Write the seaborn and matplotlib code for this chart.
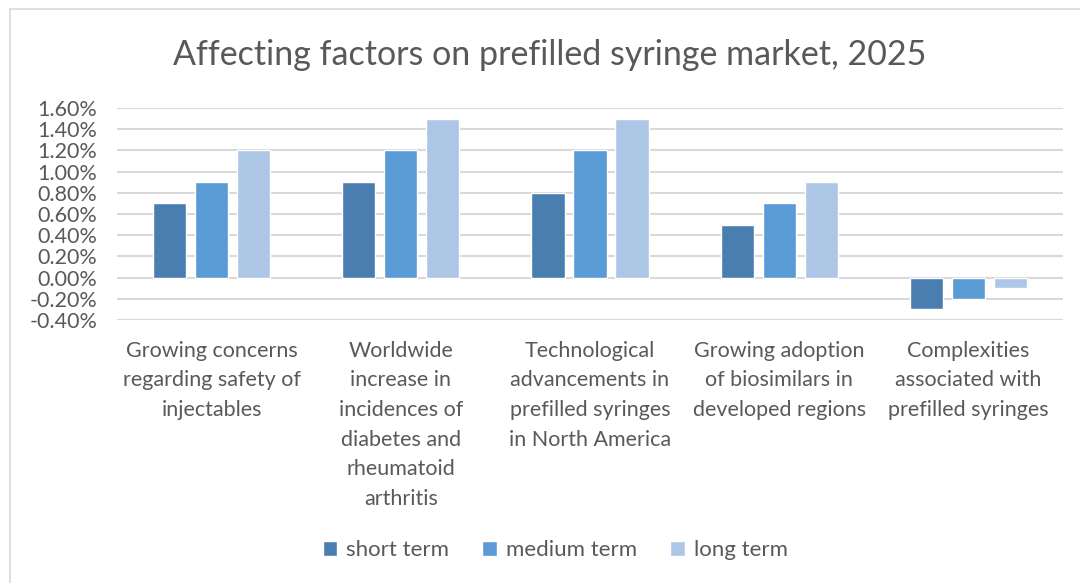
import seaborn as sns
import matplotlib.pyplot as plt
import pandas as pd
from matplotlib.ticker import FuncFormatter, MultipleLocator
from matplotlib.patches import Rectangle

# chart values (percent)
categories = [
    "Growing concerns\nregarding safety of\ninjectables",
    "Worldwide\nincrease in\nincidences of\ndiabetes and\nrheumatoid\narthritis",
    "Technological\nadvancements in\nprefilled syringes\nin North America",
    "Growing adoption\nof biosimilars in\ndeveloped regions",
    "Complexities\nassociated with\nprefilled syringes",
]
terms = ["short term", "medium term", "long term"]
short_term = [0.7, 0.9, 0.8, 0.5, -0.3]
medium_term = [0.9, 1.2, 1.2, 0.7, -0.2]
long_term = [1.2, 1.5, 1.5, 0.9, -0.1]
colors = ["#4a7eb0", "#5b9bd5", "#adc6e5"]

df = pd.DataFrame({
    "factor": categories * 3,
    "term": [t for t in terms for _ in categories],
    "value": short_term + medium_term + long_term,
})

sns.set_style("white")
plt.rcParams["font.family"] = ["Lato", "DejaVu Sans"]

fig = plt.figure(figsize=(10.8, 5.83), dpi=100)
ax = fig.add_axes([0.1083, 0.4511, 0.8759, 0.3637])

sns.barplot(data=df, x="factor", y="value", hue="term", order=categories,
            hue_order=terms, palette=colors, width=0.666, gap=0.21,
            saturation=1, ax=ax, zorder=3)

ax.set_ylim(-0.4, 1.6)
ax.yaxis.set_major_locator(MultipleLocator(0.2))
ax.yaxis.set_major_formatter(FuncFormatter(lambda v, p: f"{v:.2f}%"))
ax.grid(axis="y", color="#d9d9d9", linewidth=1.5, zorder=0)
ax.set_axisbelow(True)
for s in ax.spines.values():
    s.set_visible(False)
ax.set_xlabel("")
ax.set_ylabel("")
ax.tick_params(axis="y", length=0, labelsize=15.5, labelcolor="#595959", pad=14)
ax.tick_params(axis="x", length=0, labelsize=15.5, labelcolor="#595959", pad=15)
for lbl in ax.get_xticklabels():
    lbl.set_linespacing(1.6)

handles, labels = ax.get_legend_handles_labels()
ax.get_legend().remove()
fig.legend(handles, labels, loc="center", bbox_to_anchor=(0.514, 1 - 550 / 583),
           ncol=3, frameon=False, fontsize=16, labelcolor="#595959",
           handlelength=0.65, handleheight=0.65, handletextpad=0.4,
           columnspacing=1.5)

fig.text(0.509, 0.905, "Affecting factors on prefilled syringe market, 2025",
         ha="center", va="center", fontsize=24.5, color="#595959")

fig.patches.append(Rectangle((10 / 1080, -0.1), 1.2, 1 - 9 / 583 + 0.1,
                             transform=fig.transFigure, fill=False,
                             edgecolor="#d9d9d9", linewidth=1.2))

fig.savefig("out.png", dpi=100, facecolor="white")
